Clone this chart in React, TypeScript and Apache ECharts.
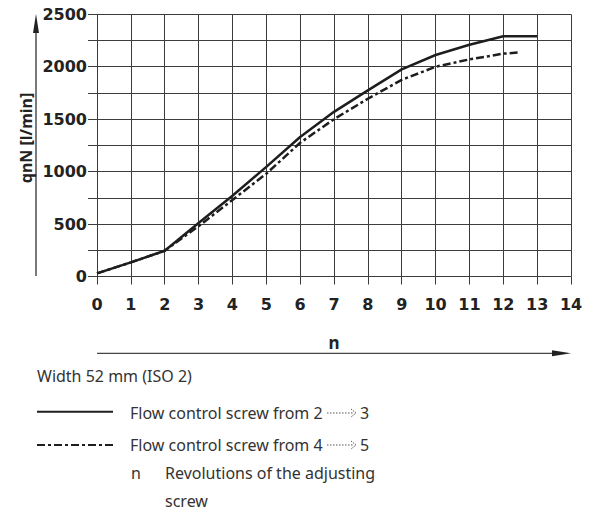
import React, { useEffect, useRef } from "react";
import * as echarts from "echarts";

const solidX = [0, 1, 2, 3, 4, 5, 6, 7, 8, 9, 10, 11, 12, 13];
const solidY = [30, 135, 245, 510, 770, 1045, 1330, 1570, 1775, 1975, 2112, 2210, 2290, 2290];
const dashX = [0, 1, 2, 3, 4, 5, 6, 7, 8, 9, 10, 11, 12, 12.5];
const dashY = [30, 135, 245, 480, 730, 980, 1275, 1500, 1695, 1875, 2000, 2070, 2125, 2137];

const yTitle = "qnN [l/min]";
const xTitle = "n";
const widthNote = "Width 52 mm (ISO 2)";
const legend1 = ["Flow control screw from 2", "3"];
const legend2 = ["Flow control screw from 4", "5"];
const noteN = ["n", "Revolutions of the adjusting", "screw"];

const LINE = "#1e1e1e";
const GRID = "#3c3c3c";
const TEXT = "#333333";

function arrowGraphic(x: number, y: number) {
  return [
    {
      type: "line",
      shape: { x1: x, y1: y, x2: x + 26, y2: y },
      style: { stroke: "#555", lineWidth: 1, lineDash: [1.5, 1.5] },
    },
    {
      type: "polyline",
      shape: { points: [[x + 24, y - 4], [x + 29, y], [x + 24, y + 4]] },
      style: { stroke: "#555", lineWidth: 1, lineDash: [1.5, 1.2], fill: null },
    },
  ];
}

export default function App() {
  const ref = useRef<HTMLDivElement>(null);
  useEffect(() => {
    if (!ref.current) return;
    const chart = echarts.init(ref.current, undefined, { renderer: "svg" });
    const legendFont = { fontFamily: "Noto Sans", fontSize: 16, fill: TEXT };
    chart.setOption({
      animation: false,
      backgroundColor: "#ffffff",
      grid: { left: 97, right: 21, top: 14.3, bottom: 236.5, containLabel: false },
      xAxis: {
        type: "value",
        min: 0,
        max: 14,
        interval: 1,
        axisLine: { show: true, lineStyle: { color: GRID, width: 1 } },
        axisTick: { show: true, length: 8, lineStyle: { color: GRID, width: 1 } },
        splitLine: { show: true, lineStyle: { color: GRID, width: 1 } },
        axisLabel: {
          margin: 20,
          fontFamily: "DejaVu Sans",
          fontWeight: "bold",
          fontSize: 16,
          color: "#222",
        },
      },
      yAxis: {
        type: "value",
        min: 0,
        max: 2500,
        interval: 250,
        axisLine: { show: true, lineStyle: { color: GRID, width: 1 } },
        axisTick: { show: true, length: 9, lineStyle: { color: GRID, width: 1 } },
        splitLine: { show: true, lineStyle: { color: GRID, width: 1 } },
        axisLabel: {
          margin: 10,
          fontFamily: "DejaVu Sans",
          fontWeight: "bold",
          fontSize: 16,
          color: "#222",
          formatter: (v: number) => (v % 500 === 0 ? String(v) : ""),
        },
      },
      series: [
        {
          type: "line",
          data: solidX.map((x, i) => [x, solidY[i]]),
          showSymbol: false,
          lineStyle: { color: LINE, width: 2.5 },
        },
        {
          type: "line",
          data: dashX.map((x, i) => [x, dashY[i]]),
          showSymbol: false,
          lineStyle: { color: LINE, width: 2.5, type: [8, 3, 3, 3] },
        },
      ],
      graphic: [
        {
          type: "line",
          shape: { x1: 36, y1: 276, x2: 36, y2: 30 },
          style: { stroke: "#222", lineWidth: 1.2 },
        },
        {
          type: "polygon",
          shape: { points: [[36, 14], [33, 33], [39, 33]] },
          style: { fill: "#222" },
        },
        {
          type: "text",
          x: 26,
          y: 138,
          rotation: Math.PI / 2,
          style: {
            text: yTitle,
            fontFamily: "Noto Sans",
            fontWeight: "bold",
            fontSize: 16,
            fill: "#222",
            align: "center",
            verticalAlign: "middle",
          },
        },
        {
          type: "line",
          shape: { x1: 97, y1: 353.3, x2: 556, y2: 353.3 },
          style: { stroke: "#444", lineWidth: 1.2 },
        },
        {
          type: "polygon",
          shape: { points: [[571, 353.3], [552, 350.3], [552, 356.3]] },
          style: { fill: "#222" },
        },
        {
          type: "text",
          x: 334,
          y: 342,
          style: {
            text: xTitle,
            fontFamily: "Noto Sans",
            fontWeight: "bold",
            fontSize: 17,
            fill: "#222",
            align: "center",
            verticalAlign: "middle",
          },
        },
        {
          type: "text",
          x: 37,
          y: 376,
          style: { ...legendFont, text: widthNote, verticalAlign: "middle" },
        },
        {
          type: "line",
          shape: { x1: 37, y1: 411.7, x2: 113, y2: 411.7 },
          style: { stroke: LINE, lineWidth: 2 },
        },
        {
          type: "text",
          x: 130,
          y: 413,
          style: { ...legendFont, text: legend1[0], verticalAlign: "middle" },
        },
        ...arrowGraphic(327, 413),
        {
          type: "text",
          x: 360,
          y: 413,
          style: { ...legendFont, text: legend1[1], verticalAlign: "middle" },
        },
        {
          type: "line",
          shape: { x1: 37, y1: 445, x2: 113, y2: 445 },
          style: { stroke: LINE, lineWidth: 2, lineDash: [8, 3, 3, 3] },
        },
        {
          type: "text",
          x: 130,
          y: 445,
          style: { ...legendFont, text: legend2[0], verticalAlign: "middle" },
        },
        ...arrowGraphic(327, 445),
        {
          type: "text",
          x: 360,
          y: 445,
          style: { ...legendFont, text: legend2[1], verticalAlign: "middle" },
        },
        {
          type: "text",
          x: 131,
          y: 473,
          style: { ...legendFont, text: noteN[0], verticalAlign: "middle" },
        },
        {
          type: "text",
          x: 165,
          y: 473,
          style: { ...legendFont, text: noteN[1], verticalAlign: "middle" },
        },
        {
          type: "text",
          x: 165,
          y: 501,
          style: { ...legendFont, text: noteN[2], verticalAlign: "middle" },
        },
      ],
    });
    return () => chart.dispose();
  }, []);
  return <div ref={ref} style={{ width: 592, height: 513, position: "absolute", left: 0, top: 0 }} />;
}
